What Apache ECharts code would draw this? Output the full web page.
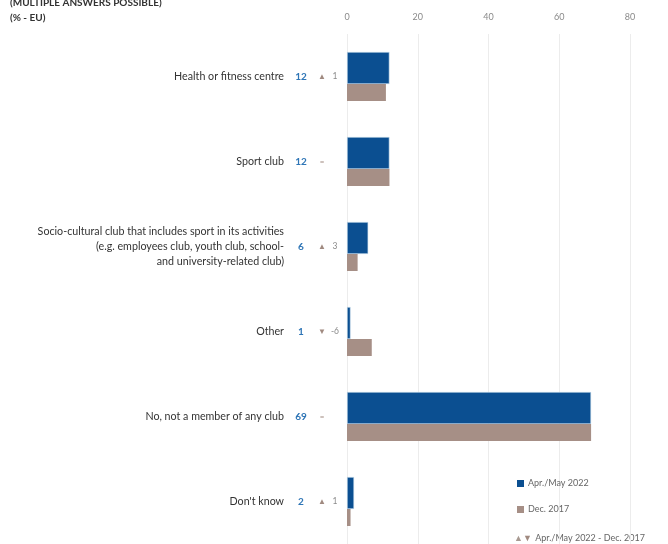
<!DOCTYPE html>
<html>
<head>
<meta charset="utf-8">
<script src="https://cdn.jsdelivr.net/npm/echarts@6/dist/echarts.min.js"></script>
<style>
  html, body { margin: 0; padding: 0; background: #fff; }
  #chart { width: 668px; height: 544px; }
</style>
</head>
<body>
<div id="chart"></div>
<script>
// Club membership for sport, EU average (%)
const categories = [
  'Health or fitness centre',
  'Sport club',
  'Socio-cultural club that includes sport in its activities\n(e.g. employees club, youth club, school-\nand university-related club)',
  'Other',
  'No, not a member of any club',
  "Don't know"
];
const apr2022 = [12, 12, 6, 1, 69, 2];
const dec2017 = [11, 12, 3, 7, 69, 1];
const xTicks = [0, 20, 40, 60, 80];
const seriesNames = ['Apr./May 2022', 'Dec. 2017'];
const changeLegend = 'Apr./May 2022 - Dec. 2017';

const FONT = 'Lato';
const BLUE = '#0b4f91';
const BROWN = '#a68f86';

// value + change column text per category
function changeTokens(i) {
  const d = apr2022[i] - dec2017[i];
  if (d === 0) return '{tri|=}{num| }';
  if (d > 0) return '{tri|▲}{num|' + d + '}';
  return '{tri|▼}{num|-' + Math.abs(d) + '}';
}

const chart = echarts.init(document.getElementById('chart'));
chart.setOption({
  animation: false,
  textStyle: { fontFamily: FONT },
  grid: { left: 347, right: 38, top: 34, height: 520, containLabel: false },
  xAxis: {
    type: 'value',
    position: 'top',
    min: xTicks[0],
    max: xTicks[xTicks.length - 1],
    interval: 20,
    axisLine: { show: false },
    axisTick: { show: false },
    axisLabel: { color: '#8a8a8a', fontSize: 9, margin: 12 },
    splitLine: { lineStyle: { color: '#ececec', width: 1 } }
  },
  yAxis: [
    {
      type: 'category',
      inverse: true,
      data: categories,
      axisLine: { show: false },
      axisTick: { show: false },
      axisLabel: {
        color: '#333',
        fontSize: 10.7,
        lineHeight: 15,
        margin: 63,
        align: 'right'
      }
    },
    {
      type: 'category',
      inverse: true,
      position: 'left',
      data: categories,
      axisLine: { show: false },
      axisTick: { show: false },
      axisLabel: {
        margin: 3,
        formatter: function (v, i) {
          return '{val|' + apr2022[i] + '}' + changeTokens(i);
        },
        rich: {
          val: { width: 34, align: 'center', color: '#2e75b6', fontWeight: 'bold', fontSize: 10 },
          tri: { width: 8, align: 'center', color: '#a08a80', fontSize: 8 },
          num: { width: 18, align: 'left', color: '#8a8a8a', fontSize: 8.5 }
        }
      }
    }
  ],
  legend: {
    orient: 'vertical',
    left: 512,
    top: 474,
    itemWidth: 7,
    itemHeight: 7,
    itemGap: 17,
    icon: 'rect',
    selectedMode: false,
    itemStyle: { borderWidth: 0 },
    textStyle: { color: '#666', fontSize: 9, padding: [0, 0, 0, -1] },
    data: seriesNames
  },
  series: [
    {
      name: seriesNames[0],
      type: 'bar',
      data: apr2022,
      barWidth: 32,
      barGap: '0%',
      itemStyle: { color: BLUE, borderColor: '#cfe0ef', borderWidth: 0.6 }
    },
    {
      name: seriesNames[1],
      type: 'bar',
      data: dec2017,
      barWidth: 17,
      barGap: '0%',
      itemStyle: { color: BROWN }
    }
  ],
  graphic: [
    {
      type: 'text', left: 10, top: -2,
      style: { text: '(MULTIPLE ANSWERS POSSIBLE)', font: 'bold 10px ' + FONT, fill: '#333' }
    },
    {
      type: 'text', left: 10, top: 13,
      style: { text: '(% - EU)', font: 'bold 10px ' + FONT, fill: '#333' }
    },
    {
      type: 'text', left: 514, top: 532,
      style: {
        text: '{a|▲}{b|▼} {c|' + changeLegend + '}',
        rich: {
          a: { fill: '#a89a92', fontSize: 9, fontFamily: FONT },
          b: { fill: '#a08a80', fontSize: 9, fontFamily: FONT },
          c: { fill: '#666', fontSize: 9, fontFamily: FONT }
        }
      }
    }
  ]
});
</script>
</body>
</html>
